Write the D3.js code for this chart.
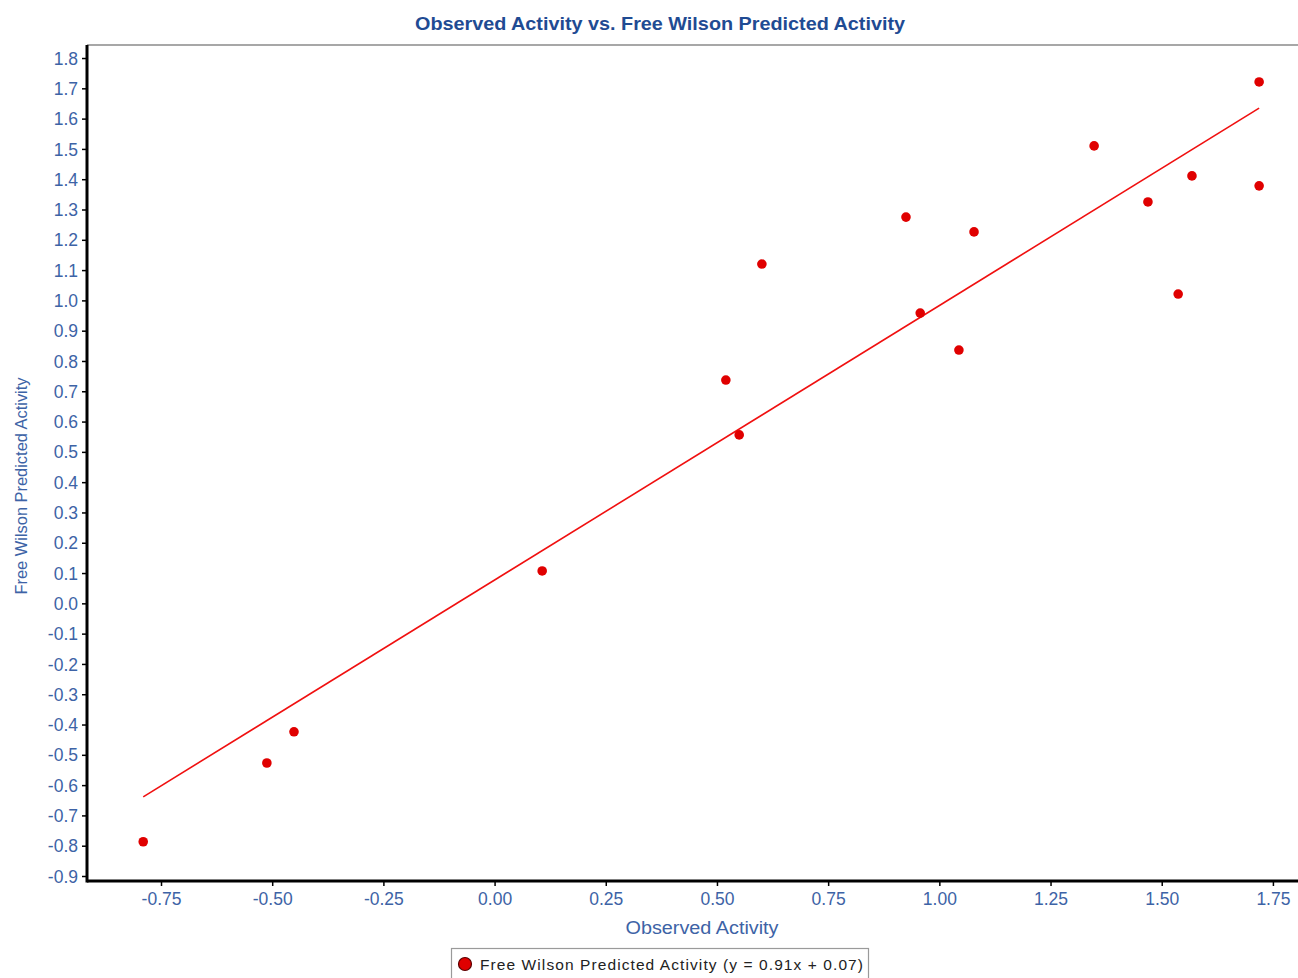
<!DOCTYPE html>
<html><head><meta charset="utf-8">
<script src="https://cdn.jsdelivr.net/npm/d3@7"></script>
<style>html,body{margin:0;padding:0;background:#fff;overflow:hidden}</style>
</head><body><svg id="c" width="1298" height="978"></svg>
<script>
const observed = [-0.79,-0.512,-0.451,0.107,0.520,0.550,0.601,0.925,0.957,1.044,1.078,1.348,1.469,1.537,1.568,1.719,1.719];
const predicted = [-0.787,-0.527,-0.424,0.107,0.737,0.556,1.120,1.275,0.958,0.836,1.226,1.510,1.325,1.021,1.411,1.721,1.378];
const fitSlope = 0.906, fitIntercept = 0.077;
const xTicks = [-0.75,-0.5,-0.25,0,0.25,0.5,0.75,1,1.25,1.5,1.75];
const yTicks = [-0.9,-0.8,-0.7,-0.6,-0.5,-0.4,-0.3,-0.2,-0.1,0,0.1,0.2,0.3,0.4,0.5,0.6,0.7,0.8,0.9,1.0,1.1,1.2,1.3,1.4,1.5,1.6,1.7,1.8];
const title = "Observed Activity vs. Free Wilson Predicted Activity";
const xTitle = "Observed Activity", yTitle = "Free Wilson Predicted Activity";
const legendLabel = "Free Wilson Predicted Activity (y = 0.91x + 0.07)";

const svg = d3.select("#c");
const L = 87, T = 45, R = 1300, B = 881;
const x = d3.scaleLinear().domain([-0.9164, 1.8109]).range([L, R]);
const y = d3.scaleLinear().domain([-0.9165, 1.843]).range([B, T]);
const blue = "#3d63a6", font = "Liberation Sans, Arial, sans-serif";
const hy = f => d => f(d).replace("\u2212", "-");

// top border
svg.append("line").attr("x1",L).attr("x2",1298).attr("y1",T).attr("y2",T).attr("stroke","#8a8a8a").attr("stroke-width",1.5);

// regression line
const xs = d3.extent(observed);
svg.append("line")
  .attr("x1", x(xs[0])).attr("y1", y(fitSlope*xs[0]+fitIntercept))
  .attr("x2", x(xs[1])).attr("y2", y(fitSlope*xs[1]+fitIntercept))
  .attr("stroke","#f01010").attr("stroke-width",1.6);

// points
svg.append("g").selectAll("circle").data(observed).join("circle")
  .attr("cx",(d)=>x(d)).attr("cy",(d,i)=>y(predicted[i])).attr("r",4.8).attr("fill","#e00000");

// axes
const yAxis = svg.append("g").attr("transform",`translate(${L},0)`)
  .call(d3.axisLeft(y).tickValues(yTicks).tickFormat(hy(d3.format(".1f"))).tickSize(5).tickSizeOuter(0));
const xAxis = svg.append("g").attr("transform",`translate(0,${B})`)
  .call(d3.axisBottom(x).tickValues(xTicks).tickFormat(hy(d3.format(".2f"))).tickSize(5).tickSizeOuter(0));
[yAxis,xAxis].forEach(g=>{
  g.select(".domain").attr("stroke","#000").attr("stroke-width",3);
  g.selectAll(".tick line").attr("stroke","#000").attr("stroke-width",1.5);
  g.selectAll(".tick text").attr("fill",blue).attr("font-family",font).attr("font-size",17.5);
});
yAxis.selectAll(".tick text").attr("x",-9).attr("dy","0.35em");
xAxis.selectAll(".tick text").attr("y",12);
xAxis.select(".domain").attr("d",`M${L},0H1298`);
yAxis.select(".domain").attr("d",`M0,${T}V${B+1.5}`);

// titles
svg.append("text").attr("x",660).attr("y",30).attr("text-anchor","middle")
  .attr("font-family",font).attr("font-weight","bold").attr("font-size",19).attr("fill","#1f4b93")
  .attr("textLength",490).attr("lengthAdjust","spacingAndGlyphs").text(title);
svg.append("text").attr("x",702).attr("y",934).attr("text-anchor","middle")
  .attr("font-family",font).attr("font-size",18).attr("fill",blue)
  .attr("textLength",153).attr("lengthAdjust","spacingAndGlyphs").text(xTitle);
svg.append("text").attr("transform","translate(27,486) rotate(-90)").attr("text-anchor","middle")
  .attr("font-family",font).attr("font-size",17).attr("fill",blue)
  .attr("textLength",217).attr("lengthAdjust","spacingAndGlyphs").text(yTitle);

// legend
const lg = svg.append("g");
lg.append("rect").attr("x",451.5).attr("y",948.5).attr("width",417).attr("height",40)
  .attr("fill","#fff").attr("stroke","#9a9a9a").attr("stroke-width",1.2);
lg.append("circle").attr("cx",465).attr("cy",964).attr("r",6.5).attr("fill","#e00000").attr("stroke","#5a0000").attr("stroke-width",1.2);
lg.append("text").attr("x",480).attr("y",970).attr("font-family",font).attr("font-size",15.5).attr("fill","#222")
  .attr("textLength",383).attr("lengthAdjust","spacing").text(legendLabel);
</script></body></html>
